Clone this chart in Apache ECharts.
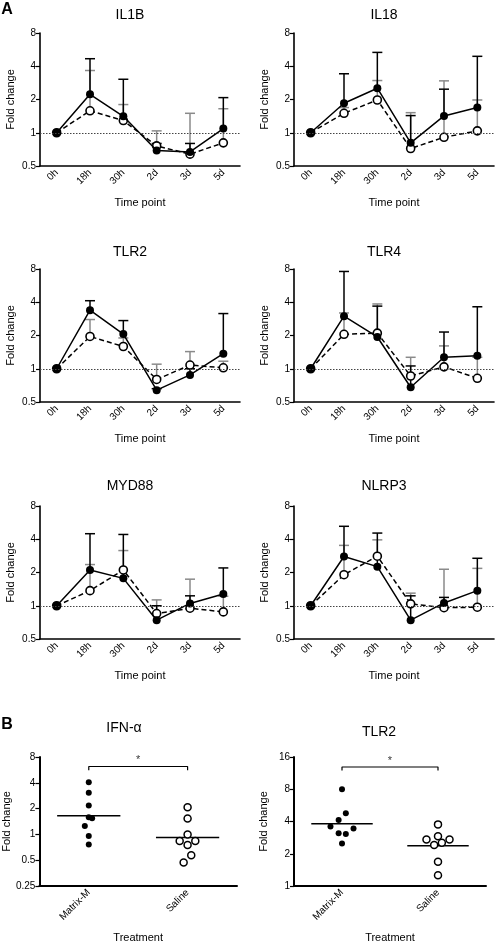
<!DOCTYPE html>
<html><head><meta charset="utf-8">
<script src="https://cdn.jsdelivr.net/npm/echarts@6/dist/echarts.min.js"></script>
<style>html,body{margin:0;padding:0;background:#fff}#c{width:495px;height:945px}</style>
</head><body><div id="c"></div><script>
// ---------- DATA ----------
var timepoints = ['0h','18h','30h','2d','3d','5d'];
var treatments = ['Matrix-M','Saline'];

var il1bMatrix      = [1, 2.23, 1.41, 0.69, 0.67, 1.09];
var il1bMatrixUpper = [null, 4.68, 3.05, 0.80, 0.80, 2.08];
var il1bSaline      = [1, 1.58, 1.29, 0.76, 0.64, 0.81];
var il1bSalineUpper = [null, 3.66, 1.80, 1.04, 1.50, 1.65];

var il18Matrix      = [1, 1.85, 2.53, 0.81, 1.42, 1.69];
var il18MatrixUpper = [null, 3.42, 5.34, 1.43, 2.48, 4.92];
var il18Saline      = [1, 1.50, 1.98, 0.72, 0.91, 1.04];
var il18SalineUpper = [null, 1.69, 2.97, 1.52, 2.95, 1.98];

var tlr2Matrix      = [1, 3.39, 2.06, 0.64, 0.88, 1.37];
var tlr2MatrixUpper = [null, 4.13, 2.73, 0.66, 1.0, 3.16];
var tlr2Saline      = [1, 1.96, 1.59, 0.80, 1.08, 1.02];
var tlr2SalineUpper = [null, 2.79, 1.90, 1.10, 1.43, 1.17];

var tlr4Matrix      = [1, 2.99, 1.94, 0.68, 1.27, 1.31];
var tlr4MatrixUpper = [null, 7.6, 3.69, 1.06, 2.15, 3.64];
var tlr4Saline      = [1, 2.05, 2.10, 0.86, 1.04, 0.82];
var tlr4SalineUpper = [null, 3.2, 3.86, 1.27, 1.61, 1.27];

var myd88Matrix      = [1, 2.11, 1.77, 0.74, 1.05, 1.28];
var myd88MatrixUpper = [null, 4.49, 4.42, 1.0, 1.23, 2.2];
var myd88Saline      = [1, 1.37, 2.11, 0.85, 0.95, 0.88];
var myd88SalineUpper = [null, 2.36, 3.16, 1.13, 1.74, 1.22];

var nlrp3Matrix      = [1, 2.79, 2.26, 0.74, 1.06, 1.37];
var nlrp3MatrixUpper = [null, 5.24, 4.55, 1.23, 1.19, 2.69];
var nlrp3Saline      = [1, 1.91, 2.81, 1.04, 0.96, 0.97];
var nlrp3SalineUpper = [null, 3.52, 3.95, 1.30, 2.14, 2.18];

var ifnMatrix       = [4.06, 3.07, 2.18, 1.58, 1.54, 1.25, 0.96, 0.76];
var ifnMatrixJitter = [0, 0, 0, 0, 0.034, -0.04, 0, 0];
var ifnSaline       = [2.07, 1.53, 1.0, 0.84, 0.75, 0.84, 0.57, 0.47];
var ifnSalineJitter = [0, 0, 0, -0.08, 0, 0.078, 0.037, -0.04];
var ifnCenterLines  = [1.65, 0.92];
var ifnBracket      = [6.2, 5.6];

var tlr2bMatrix       = [8.0, 4.77, 4.13, 3.60, 3.45, 3.10, 3.05, 2.49];
var tlr2bMatrixJitter = [0, 0.04, -0.035, -0.12, 0.12, -0.035, 0.04, 0];
var tlr2bSaline       = [3.76, 2.92, 2.72, 2.72, 2.53, 2.41, 1.68, 1.26];
var tlr2bSalineJitter = [0, 0, -0.12, 0.12, 0.04, -0.04, 0, 0];
var tlr2bCenterLines  = [3.82, 2.37];
var tlr2bBracket      = [12.9, 12.0];

var panelsA = [
  {name:'IL1B',  m:il1bMatrix,  mu:il1bMatrixUpper,  s:il1bSaline,  su:il1bSalineUpper},
  {name:'IL18',  m:il18Matrix,  mu:il18MatrixUpper,  s:il18Saline,  su:il18SalineUpper},
  {name:'TLR2',  m:tlr2Matrix,  mu:tlr2MatrixUpper,  s:tlr2Saline,  su:tlr2SalineUpper},
  {name:'TLR4',  m:tlr4Matrix,  mu:tlr4MatrixUpper,  s:tlr4Saline,  su:tlr4SalineUpper},
  {name:'MYD88', m:myd88Matrix, mu:myd88MatrixUpper, s:myd88Saline, su:myd88SalineUpper},
  {name:'NLRP3', m:nlrp3Matrix, mu:nlrp3MatrixUpper, s:nlrp3Saline, su:nlrp3SalineUpper}
];

// ---------- LAYOUT ----------
var FONT = 'Liberation Sans, Arial, sans-serif';
var colLeft = [40, 294];
var rowTop = [33, 269, 506];
var titleY = [15, 252, 486];
var gridW = 200, gridH = 133;
var GREY = '#8a8a8a';

var grids = [], xAxes = [], yAxes = [], series = [], graphics = [];

function addText(txt, x, y, size, bold){
  graphics.push({type:'text', x:x, y:y, silent:true,
    style:{text:txt, fill:'#000', textAlign:'center', textVerticalAlign:'middle',
      font:(bold ? 'bold ' : '') + size + 'px ' + FONT}});
}

function errRender(color){
  return function(params, api){
    var hi = api.value(2);
    if (hi === null || hi === undefined || isNaN(hi)) return;
    var p1 = api.coord([api.value(0), api.value(1)]);
    var p2 = api.coord([api.value(0), hi]);
    var w = 5;
    return {type:'group', children:[
      {type:'line', shape:{x1:p1[0], y1:p1[1], x2:p2[0], y2:p2[1]}, style:{stroke:color, lineWidth:1.5}},
      {type:'line', shape:{x1:p2[0]-w, y1:p2[1], x2:p2[0]+w, y2:p2[1]}, style:{stroke:color, lineWidth:1.5}}
    ]};
  };
}

panelsA.forEach(function(p, i){
  var col = i % 2, row = Math.floor(i / 2);
  var left = colLeft[col], top = rowTop[row];
  grids.push({left:left, top:top, width:gridW, height:gridH, containLabel:false});
  addText(p.name, left + 90, titleY[row], 14, false);
  xAxes.push({type:'category', gridIndex:i, data:timepoints, boundaryGap:true,
    axisLine:{lineStyle:{color:'#000', width:1.6}},
    axisTick:{alignWithLabel:true, length:4, lineStyle:{color:'#000', width:1.2}},
    axisLabel:{rotate:45, fontFamily:FONT, fontSize:10, color:'#000', margin:5},
    name:'Time point', nameLocation:'middle', nameGap:31,
    nameTextStyle:{fontFamily:FONT, fontSize:11, color:'#000'}, splitLine:{show:false}});
  yAxes.push({type:'log', logBase:2, gridIndex:i, min:0.5, max:8, interval:1,
    axisLine:{show:true, onZero:false, lineStyle:{color:'#000', width:1.6}},
    axisTick:{show:true, length:4, lineStyle:{color:'#000', width:1.2}},
    axisLabel:{fontFamily:FONT, fontSize:10, color:'#000', margin:4},
    splitLine:{show:false}, minorTick:{show:false},
    name:'Fold change', nameLocation:'middle', nameGap:24,
    nameTextStyle:{fontFamily:FONT, fontSize:11, color:'#000'}});
  var errS = [], errM = [];
  for (var k = 0; k < timepoints.length; k++){
    errS.push([k, p.s[k], p.su[k] === null ? NaN : p.su[k]]);
    errM.push([k, p.m[k], p.mu[k] === null ? NaN : p.mu[k]]);
  }
  series.push({type:'custom', xAxisIndex:i, yAxisIndex:i, renderItem:errRender(GREY),
    data:errS, encode:{x:0, y:[1,2]}, z:1, silent:true});
  series.push({type:'custom', xAxisIndex:i, yAxisIndex:i, renderItem:errRender('#000'),
    data:errM, encode:{x:0, y:[1,2]}, z:2, silent:true});
  series.push({type:'line', xAxisIndex:i, yAxisIndex:i, data:p.s, z:3,
    symbol:'circle', symbolSize:8,
    itemStyle:{color:'#fff', borderColor:'#000', borderWidth:1.6, opacity:1},
    lineStyle:{color:'#000', width:1.5, type:[5,3]},
    markLine:{silent:true, symbol:'none', label:{show:false},
      lineStyle:{color:'#444', width:1, type:[1.5,1.5]}, data:[{yAxis:1}]}});
  series.push({type:'line', xAxisIndex:i, yAxisIndex:i, data:p.m, z:4,
    symbol:'circle', symbolSize:8,
    itemStyle:{color:'#000', borderColor:'#000', borderWidth:0, opacity:1},
    lineStyle:{color:'#000', width:1.5, type:'solid'}});
});

// ---------- PANEL B ----------
var panelsB = [
  {name:'IFN-\u03b1', left:39, width:198, min:0.25, max:8, tx:124, ty:728,
   m:ifnMatrix, mj:ifnMatrixJitter, s:ifnSaline, sj:ifnSalineJitter, c:ifnCenterLines, b:ifnBracket},
  {name:'TLR2', left:294, width:192, min:1, max:16, tx:379, ty:732,
   m:tlr2bMatrix, mj:tlr2bMatrixJitter, s:tlr2bSaline, sj:tlr2bSalineJitter, c:tlr2bCenterLines, b:tlr2bBracket}
];
var halfLine = 0.32;
panelsB.forEach(function(p, j){
  var gi = grids.length;
  grids.push({left:p.left, top:757, width:p.width, height:129, containLabel:false});
  addText(p.name, p.tx, p.ty, 14, false);
  var xi = xAxes.length;
  xAxes.push({type:'category', gridIndex:gi, data:treatments, boundaryGap:true,
    axisLine:{onZero:false, lineStyle:{color:'#000', width:2}},
    axisTick:{alignWithLabel:true, length:4, lineStyle:{color:'#000', width:1.2}},
    axisLabel:{rotate:45, fontFamily:FONT, fontSize:10, color:'#000', margin:5},
    name:'Treatment', nameLocation:'middle', nameGap:46,
    nameTextStyle:{fontFamily:FONT, fontSize:11, color:'#000'}});
  xAxes.push({type:'value', gridIndex:gi, min:-0.5, max:1.5, show:false});
  var yi = yAxes.length;
  yAxes.push({type:'log', logBase:2, gridIndex:gi, min:p.min, max:p.max, interval:1,
    axisLine:{show:true, onZero:false, lineStyle:{color:'#000', width:2}},
    axisTick:{show:true, length:4, lineStyle:{color:'#000', width:1.2}},
    axisLabel:{fontFamily:FONT, fontSize:10, color:'#000', margin:4},
    splitLine:{show:false}, minorTick:{show:false},
    name:'Fold change', nameLocation:'middle', nameGap:25,
    nameTextStyle:{fontFamily:FONT, fontSize:11, color:'#000'}});
  var vx = xi + 1;
  series.push({type:'scatter', xAxisIndex:vx, yAxisIndex:yi, symbolSize:6, z:3,
    itemStyle:{color:'#000', opacity:1}, data:p.m.map(function(v,k){return [0 + p.mj[k], v];})});
  series.push({type:'scatter', xAxisIndex:vx, yAxisIndex:yi, symbolSize:7, z:3,
    itemStyle:{color:'#fff', borderColor:'#000', borderWidth:1.5, opacity:1},
    data:p.s.map(function(v,k){return [1 + p.sj[k], v];})});
  p.c.forEach(function(v, g){
    series.push({type:'line', xAxisIndex:vx, yAxisIndex:yi, symbol:'none', z:1,
      lineStyle:{color:'#000', width:1.5}, data:[[g - halfLine, v], [g + halfLine, v]]});
  });
  series.push({type:'line', xAxisIndex:vx, yAxisIndex:yi, symbol:'none',
    lineStyle:{color:'#000', width:1.2},
    data:[[0, p.b[1]], [0, p.b[0]], [1, p.b[0]], [1, p.b[1]]]});
  series.push({type:'scatter', xAxisIndex:vx, yAxisIndex:yi, symbolSize:0,
    label:{show:true, position:'top', distance:1, formatter:'*', fontFamily:FONT, fontSize:11, color:'#000'},
    data:[[0.5, p.b[0]]]});
});

addText('A', 7, 10, 16, true);
addText('B', 7, 725, 16, true);

var chart = echarts.init(document.getElementById('c'), null, {renderer:'canvas'});
chart.setOption({
  animation:false, backgroundColor:'#fff',
  grid:grids, xAxis:xAxes, yAxis:yAxes, series:series, graphic:graphics
});
</script></body></html>
